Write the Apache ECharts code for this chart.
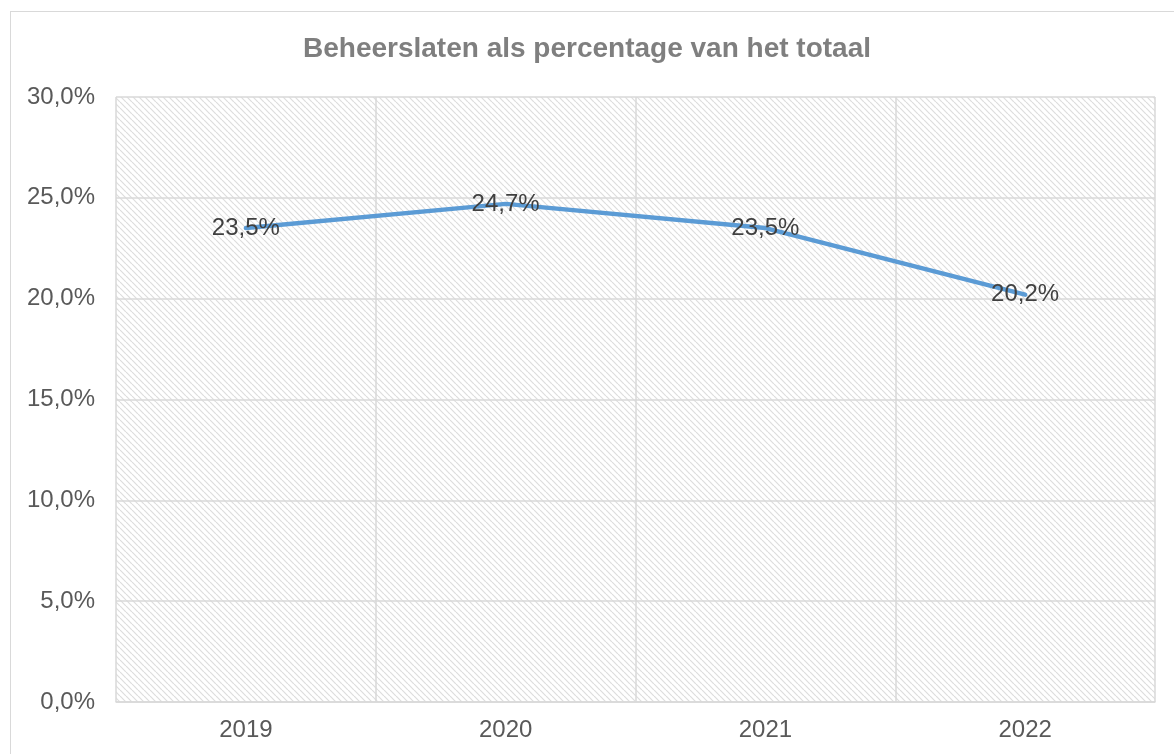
<!DOCTYPE html>
<html>
<head>
<meta charset="utf-8">
<script src="https://cdn.jsdelivr.net/npm/echarts@6/dist/echarts.min.js"></script>
<style>
  html, body { margin: 0; padding: 0; background: #fff; }
  #wrap { position: relative; width: 1174px; height: 754px; overflow: hidden; }
  #frame { position: absolute; left: 10px; top: 11px; width: 1200px; height: 800px; border: 1px solid #d9d9d9; }
  #chart { position: absolute; left: 0; top: 0; width: 1174px; height: 754px; }
</style>
</head>
<body>
<div id="wrap">
  <div id="frame"></div>
  <div id="chart"></div>
</div>
<script>
// data
var years = ["2019", "2020", "2021", "2022"];
var share = [23.5, 24.7, 23.5, 20.2];

function pct(v) {
  return v.toFixed(1).replace(".", ",") + "%";
}

// diagonal hatch for the plot area
function hatch() {
  var s = 6;
  var c = document.createElement("canvas");
  c.width = s;
  c.height = s;
  var ctx = c.getContext("2d");
  ctx.fillStyle = "#ffffff";
  ctx.fillRect(0, 0, s, s);
  ctx.strokeStyle = "#dddddd";
  ctx.lineWidth = 1.2;
  [-s, 0, s].forEach(function (o) {
    ctx.beginPath();
    ctx.moveTo(o, 0);
    ctx.lineTo(o + s, s);
    ctx.stroke();
  });
  return c;
}

var chart = echarts.init(document.getElementById("chart"), null, { renderer: "canvas" });
chart.setOption({
  animation: false,
  title: {
    text: "Beheerslaten als percentage van het totaal",
    left: "center",
    top: 30,
    textStyle: {
      fontFamily: "Liberation Sans, Arial, sans-serif",
      fontSize: 28,
      fontWeight: "bold",
      color: "#7f7f7f",
    },
  },
  grid: {
    left: 116,
    right: 19,
    top: 97,
    bottom: 52,
    show: true,
    borderWidth: 0,
    backgroundColor: { image: hatch(), repeat: "repeat" },
  },
  xAxis: {
    type: "category",
    data: years,
    boundaryGap: true,
    axisLine: { lineStyle: { color: "#d9d9d9", width: 1.5 } },
    axisTick: { show: false },
    splitLine: { show: true, lineStyle: { color: "#d9d9d9", width: 1.5 } },
    axisLabel: {
      margin: 16,
      fontFamily: "Liberation Sans, Arial, sans-serif",
      fontSize: 24,
      color: "#595959",
    },
  },
  yAxis: {
    type: "value",
    min: 0,
    max: 30,
    interval: 5,
    axisLine: { show: false },
    axisTick: { show: false },
    splitLine: { lineStyle: { color: "#d9d9d9", width: 1.5 } },
    axisLabel: {
      margin: 21,
      formatter: pct,
      fontFamily: "Liberation Sans, Arial, sans-serif",
      fontSize: 24,
      color: "#595959",
    },
  },
  series: [
    {
      type: "line",
      data: share,
      symbol: "circle",
      symbolSize: 1,
      showSymbol: true,
      itemStyle: { color: "#5b9bd5" },
      lineStyle: { color: "#5b9bd5", width: 4.5, cap: "round" },
      label: {
        show: true,
        position: "inside",
        formatter: function (p) { return pct(p.value); },
        fontFamily: "Liberation Sans, Arial, sans-serif",
        fontSize: 24,
        color: "#404040",
      },
    },
  ],
});
</script>
</body>
</html>
